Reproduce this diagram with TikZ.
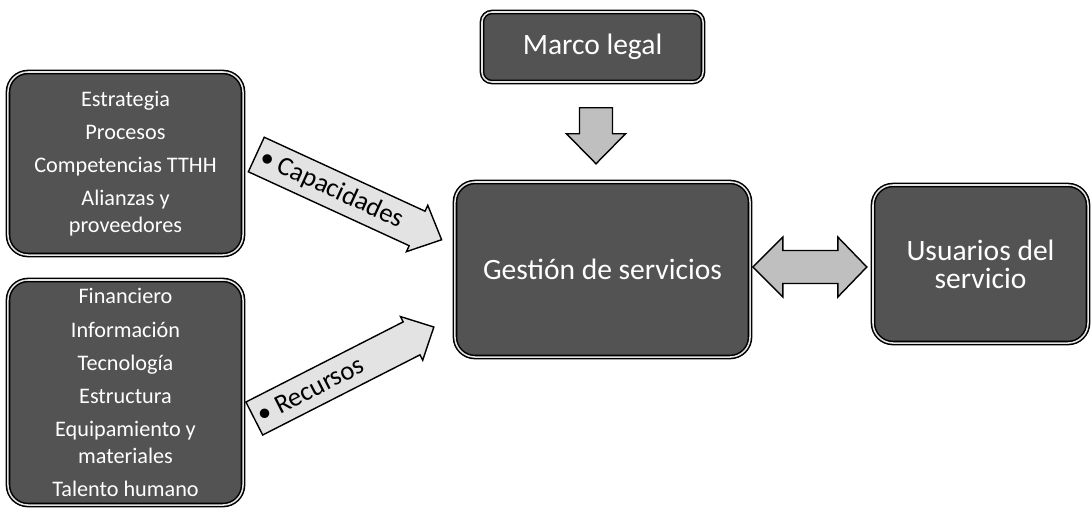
\documentclass[tikz,border=0pt]{standalone}
\usepackage{fontspec}
\setmainfont{Carlito}
\usetikzlibrary{calc}
\tikzset{
  darkbox/.style={rectangle, rounded corners=0.5cm, fill=gray!65!black,
    draw=black, line width=1.1pt, double=white!80!gray, double distance=1.1pt,
    text=white, align=center, inner sep=0pt},
  listtext/.style={font=\fontsize{15.8}{19.2}\selectfont},
  bigtext/.style={font=\fontsize{21}{20}\selectfont},
  lightarrow/.style={fill=gray!22, draw=black, line width=1pt, line join=miter},
  midarrow/.style={fill=gray!50, draw=black, line width=1pt, line join=miter},
  arrowtext/.style={font=\fontsize{19}{22}\selectfont, text=black, inner sep=0pt}
}
\begin{document}
\begin{tikzpicture}[x=0.025cm, y=-0.025cm]
\useasboundingbox (0,0) rectangle (1091,516);

% boxes
\node[darkbox, listtext, minimum width=5.875cm, minimum height=4.575cm] (capbox) at (125.5,163.5)
  {Estrategia\\[4.3pt]Procesos\\[4.3pt]Competencias TTHH\\[4.3pt]Alianzas y\\proveedores};
\node[darkbox, listtext, minimum width=5.875cm, minimum height=5.625cm] (recbox) at (125.5,392.5)
  {Financiero\\[4.3pt]Información\\[4.3pt]Tecnología\\[4.3pt]Estructura\\[4.3pt]Equipamiento y\\materiales\\[4.3pt]Talento humano};
\node[darkbox, bigtext, rounded corners=0.25cm, minimum width=5.525cm, minimum height=1.75cm] (marco) at (592.5,47) {Marco legal};
\node[darkbox, bigtext, minimum width=7.375cm, minimum height=4.375cm] (gestion) at (602.5,269.5) {Gestión de servicios};
\node[darkbox, bigtext, minimum width=5.375cm, minimum height=3.95cm] (usuarios) at (980.5,264) {Usuarios del\\servicio};

% Capacidades arrow
\begin{scope}[shift={($(capbox.east)+(12.5,-9)$)}, rotate=-24.7]
  \draw[lightarrow] (0,-19) -- (177,-19) -- (177,-25.5) -- (204,0) -- (177,25.5) -- (177,19) -- (0,19) -- cycle;
  \node[arrowtext, anchor=west, rotate=-24.7] (captxt) at (5,0) {• Capacidades};
\end{scope}

% Recursos arrow
\begin{scope}[shift={($(recbox.east)+(10.5,26)$)}, rotate=27]
  \draw[lightarrow] (0,-18.5) -- (176.5,-18.5) -- (176.5,-24.5) -- (201.5,0) -- (176.5,24.5) -- (176.5,18.5) -- (0,18.5) -- cycle;
  \node[arrowtext, anchor=west, rotate=27] (rectxt) at (5,0) {• Recursos};
\end{scope}

% down arrow from marco to gestion
\begin{scope}[shift={($(marco.south)+(3.5,25)$)}]
  \draw[midarrow] (-16.5,0) -- (16.5,0) -- (16.5,26) -- (29.5,26) -- (0,56) -- (-29.5,26) -- (-16.5,26) -- cycle;
\end{scope}

% double arrow between gestion and usuarios
\begin{scope}[shift={($(gestion.east)+(2,-2.5)$)}]
  \draw[midarrow] (0,0) -- (30,-30) -- (30,-16.5) -- (85,-16.5) -- (85,-30) -- (114,0)
    -- (85,30) -- (85,16.5) -- (30,16.5) -- (30,30) -- cycle;
\end{scope}
\end{tikzpicture}
\end{document}
